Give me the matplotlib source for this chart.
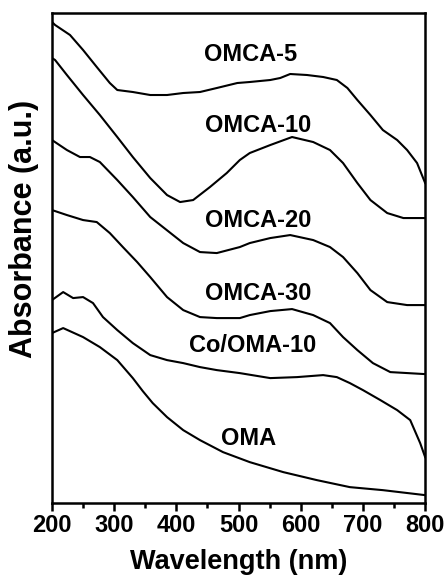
import matplotlib
matplotlib.use("Agg")
import matplotlib.pyplot as plt

plt.rcParams['font.family'] = ['Liberation Sans', 'DejaVu Sans']
plt.rcParams['font.weight'] = 'bold'

# wavelength (nm) / absorbance (a.u., stacked with offsets)
omca5_x = [200, 205, 229, 250, 272, 293, 305, 330, 358, 385, 411, 438, 465, 498, 518, 551, 567,
           583, 610, 636, 658, 675, 691, 712, 732, 755, 771, 787, 800]
omca5_y = [4.81, 4.78, 4.68, 4.53, 4.36, 4.20, 4.13, 4.11, 4.08, 4.08, 4.10, 4.11, 4.15, 4.20, 4.21,
           4.23, 4.25, 4.29, 4.28, 4.26, 4.23, 4.15, 4.03, 3.88, 3.73, 3.63, 3.53, 3.40, 3.20]

omca10_x = [200, 205, 224, 250, 277, 305, 330, 358, 385, 406, 427, 454, 481, 502, 518, 551, 586,
            620, 647, 668, 691, 712, 739, 765, 800]
omca10_y = [4.45, 4.43, 4.28, 4.08, 3.88, 3.66, 3.46, 3.25, 3.08, 3.01, 3.03, 3.16, 3.30, 3.43, 3.50,
            3.58, 3.66, 3.61, 3.53, 3.40, 3.20, 3.03, 2.90, 2.85, 2.85]

omca20_x = [200, 224, 245, 261, 277, 305, 330, 358, 411, 438, 465, 502, 518, 551, 583, 620, 647,
            668, 691, 712, 739, 771, 800]
omca20_y = [3.63, 3.53, 3.46, 3.46, 3.41, 3.23, 3.06, 2.86, 2.60, 2.51, 2.50, 2.56, 2.60, 2.65, 2.68,
            2.63, 2.56, 2.46, 2.30, 2.13, 2.01, 1.98, 1.98]

omca30_x = [200, 224, 250, 272, 293, 314, 337, 358, 385, 411, 438, 465, 502, 518, 551, 586, 620,
            647, 668, 691, 716, 744, 800]
omca30_y = [2.93, 2.88, 2.83, 2.81, 2.70, 2.56, 2.41, 2.26, 2.06, 1.93, 1.86, 1.85, 1.85, 1.88, 1.92,
            1.94, 1.88, 1.80, 1.66, 1.53, 1.40, 1.31, 1.29]

co_oma10_x = [200, 218, 234, 250, 266, 282, 305, 330, 358, 385, 411, 438, 465, 502, 551, 594, 636,
              658, 679, 700, 728, 755, 776, 792, 800]
co_oma10_y = [2.03, 2.11, 2.05, 2.06, 2.00, 1.86, 1.73, 1.60, 1.48, 1.43, 1.40, 1.36, 1.33, 1.30, 1.25,
              1.26, 1.28, 1.26, 1.20, 1.13, 1.03, 0.93, 0.83, 0.60, 0.46]

oma_x = [200, 218, 250, 277, 305, 330, 346, 362, 385, 411, 438, 475, 518, 572, 626, 679, 732, 800]
oma_y = [1.70, 1.75, 1.66, 1.56, 1.43, 1.25, 1.12, 1.00, 0.86, 0.73, 0.63, 0.51, 0.41, 0.31, 0.23,
         0.16, 0.13, 0.08]

labels = ['OMCA-5', 'OMCA-10', 'OMCA-20', 'OMCA-30', 'Co/OMA-10', 'OMA']
label_x = [519, 531, 531, 532, 523, 516]
label_y = [4.42, 3.71, 2.76, 2.03, 1.51, 0.58]

fig = plt.figure(figsize=(4.48, 5.77), dpi=100)
ax = fig.add_axes([0.116, 0.128, 0.833, 0.8495])

series = [(omca5_x, omca5_y), (omca10_x, omca10_y), (omca20_x, omca20_y),
          (omca30_x, omca30_y), (co_oma10_x, co_oma10_y), (oma_x, oma_y)]
for xs, ys in series:
    ax.plot(xs, ys, color='black', linewidth=1.5, solid_joinstyle='round')

for lab, lx, ly in zip(labels, label_x, label_y):
    ax.text(lx, ly, lab, ha='center', va='baseline', fontsize=17, fontweight='bold')

ax.set_xlim(200, 800)
ax.set_ylim(0, 4.9)
ax.set_xticks([200, 300, 400, 500, 600, 700, 800])
ax.set_xticks([250, 350, 450, 550, 650, 750], minor=True)
ax.set_yticks([])
ax.tick_params(axis='x', direction='out', length=6, width=1.8, labelsize=17, pad=1.5)
ax.tick_params(axis='x', which='minor', direction='out', length=3.5, width=1.8)
for lbl in ax.get_xticklabels():
    lbl.set_fontweight('bold')
for s in ax.spines.values():
    s.set_linewidth(1.8)

ax.set_xlabel('Wavelength (nm)', fontsize=19.5, fontweight='bold')
ax.xaxis.set_label_coords(0.5, -0.094)
ax.set_ylabel('Absorbance (a.u.)', fontsize=22, fontweight='bold', va='center')
ax.yaxis.set_label_coords(-0.075, 0.559)

fig.savefig('out.png', dpi=100)
